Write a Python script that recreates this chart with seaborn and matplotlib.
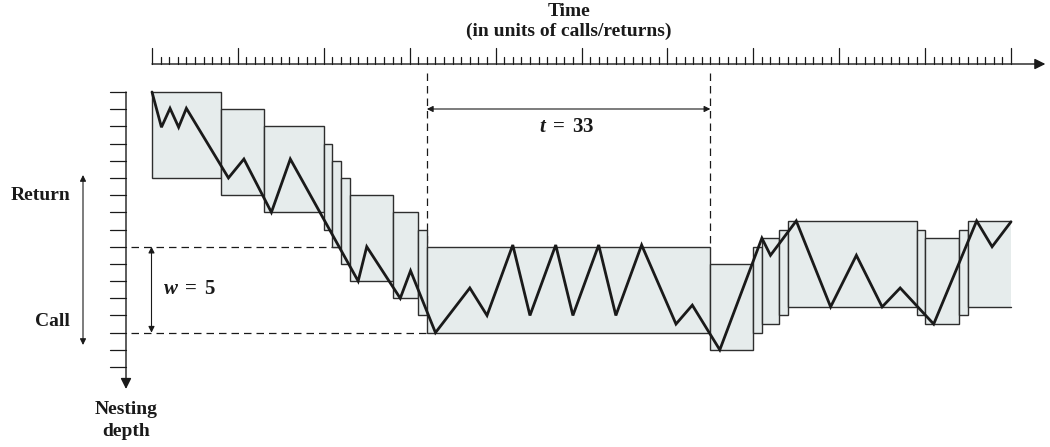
import matplotlib
matplotlib.use("Agg")
import matplotlib.pyplot as plt
from matplotlib.patches import Rectangle
import seaborn as sns
import pandas as pd
import numpy as np

# ---------------- data ----------------
# trace of call/return nesting depth over time
trace_t = [0, 1.1, 2.1, 3.1, 4.0, 8.9, 10.7, 13.9, 16.1, 24.0, 25.0, 28.9, 30.1, 33.0,
           37.0, 39.0, 42.0, 44.0, 47.0, 49.0, 52.0, 54.0, 57.0, 61.0, 62.9, 66.1,
           71.0, 72.0, 75.0, 79.0, 82.0, 85.0, 87.1, 91.0, 96.0, 97.8, 100]
trace_d = [0, 2.05, 0.95, 2.05, 0.95, 5.0, 3.9, 7.0, 3.9, 11.0, 9.0, 12.0, 10.4, 14.0,
           11.4, 13.0, 8.9, 13.0, 8.9, 13.0, 8.9, 13.0, 8.9, 13.5, 12.4, 15.0,
           8.5, 9.5, 7.5, 12.5, 9.5, 12.5, 11.4, 13.5, 7.5, 9.0, 7.55]

# register windows (time start, time end, top depth), window size w
box_t0 = [0, 8, 13, 20, 21, 22, 23, 28, 31, 32, 65, 70, 71, 73, 74, 89, 90, 94, 95]
box_t1 = [8, 13, 20, 21, 22, 23, 28, 31, 32, 65, 70, 71, 73, 74, 89, 90, 94, 95, 100]
box_top = [0, 1, 2, 3, 4, 5, 6, 7, 8, 9, 10, 9, 8.5, 8, 7.5, 8, 8.5, 8, 7.5]
window_w = 5

time_ticks = list(range(0, 101))
depth_ticks = list(range(0, 17))

t_start, t_end = 32, 65
w_top, w_bot = 9, 14

# ---------------- figure ----------------
sns.set_theme(style="white")
plt.rcParams["font.family"] = ["Liberation Serif", "DejaVu Serif"]
plt.rcParams["mathtext.fontset"] = "custom"
plt.rcParams["mathtext.rm"] = "Liberation Serif:bold"
plt.rcParams["mathtext.it"] = "Liberation Serif:italic:bold"

fig = plt.figure(figsize=(10.5, 4.47), dpi=100)
ax = fig.add_axes([0, 0, 1, 1])
# pixel mapping: x = 152 + 8.59 t ; y = 92 + 17.19 d
sx, sy = 8.59, 17.19
ax.set_xlim(-152 / sx, (1050 - 152) / sx)
ax.set_ylim((447 - 92) / sy, -92 / sy)
ax.axis("off")

fill = "#e6ecec"
edge = "#2e2e2e"

for i, (a, b, top) in enumerate(zip(box_t0, box_t1, box_top)):
    if i < len(box_t0) - 1:
        ax.add_patch(Rectangle((a, top), b - a, window_w, facecolor=fill,
                               edgecolor=edge, lw=1.0, zorder=2))
    else:
        ax.add_patch(Rectangle((a, top), b - a, window_w, facecolor=fill,
                               edgecolor="none", zorder=2))
        ax.plot([b, a, a, b], [top, top, top + window_w, top + window_w],
                color=edge, lw=1.0, zorder=2.1)

df = pd.DataFrame({"t": trace_t, "d": trace_d})
sns.lineplot(data=df, x="t", y="d", sort=False, estimator=None, color="#1a1a1a",
             lw=2.0, ax=ax, zorder=5)
for l in ax.lines:
    l.set_solid_joinstyle("miter")

# time axis
ya = (64 - 92) / sy
ax.annotate("", xy=(104.0, ya), xytext=(0, ya),
            arrowprops=dict(arrowstyle="-|>", color="#1a1a1a", lw=1.0,
                            mutation_scale=16, shrinkA=0, shrinkB=0))
for t in time_ticks:
    h = 16 if t % 10 == 0 else 7
    ax.plot([t, t], [ya, ya - h / sy], color="#1a1a1a", lw=0.9)

# depth axis
xa = (126 - 152) / sx
ax.annotate("", xy=(xa, (389 - 92) / sy), xytext=(xa, 0),
            arrowprops=dict(arrowstyle="-|>", color="#1a1a1a", lw=1.0,
                            mutation_scale=16, shrinkA=0, shrinkB=0))
for d in depth_ticks:
    ax.plot([xa, xa - 16 / sx], [d, d], color="#1a1a1a", lw=0.9)

# dashed guides
dash = dict(color="#1a1a1a", lw=0.9, ls=(0, (6, 4)), zorder=1)
ax.plot([(131 - 152) / sx, t_start], [w_top, w_top], **dash)
ax.plot([(131 - 152) / sx, t_start], [w_bot, w_bot], **dash)
ytop = (73 - 92) / sy
ax.plot([t_start, t_start], [ytop, w_top], **dash)
ax.plot([t_end, t_end], [ytop, w_top], **dash)

# double arrows
arr = dict(arrowstyle="<|-|>", color="#1a1a1a", lw=0.8, mutation_scale=9,
           shrinkA=0, shrinkB=0)
ay = (109 - 92) / sy
ax.annotate("", xy=(t_start, ay), xytext=(t_end, ay), arrowprops=arr)
wx = (151.5 - 152) / sx
ax.annotate("", xy=(wx, w_top), xytext=(wx, w_bot), arrowprops=arr)
rx = (83 - 152) / sx
ax.annotate("", xy=(rx, (175 - 92) / sy), xytext=(rx, (345 - 92) / sy), arrowprops=arr)

# texts
tk = dict(fontweight="bold", color="#1a1a1a", fontsize=14)
ax.text((569 - 152) / sx, (12 - 92) / sy, "Time", ha="center", va="center", **tk)
ax.text((569 - 152) / sx, (31 - 92) / sy, "(in units of calls/returns)",
        ha="center", va="center", **tk)
ax.text((70 - 152) / sx, (195 - 92) / sy, "Return", ha="right", va="center", **tk)
ax.text((70 - 152) / sx, (322 - 92) / sy, "Call", ha="right", va="center", **tk)
ax.text((126 - 152) / sx, (410 - 92) / sy, "Nesting", ha="center", va="center", **tk)
ax.text((126 - 152) / sx, (431 - 92) / sy, "depth", ha="center", va="center", **tk)
ax.text((163 - 152) / sx, (290 - 92) / sy, r"$w\;=\;5$", ha="left", va="center",
        color="#1a1a1a", fontsize=15)
ax.text((567 - 152) / sx, (128 - 92) / sy, r"$t\;=\;33$", ha="center", va="center",
        color="#1a1a1a", fontsize=15)

fig.savefig("out.png", dpi=100)
